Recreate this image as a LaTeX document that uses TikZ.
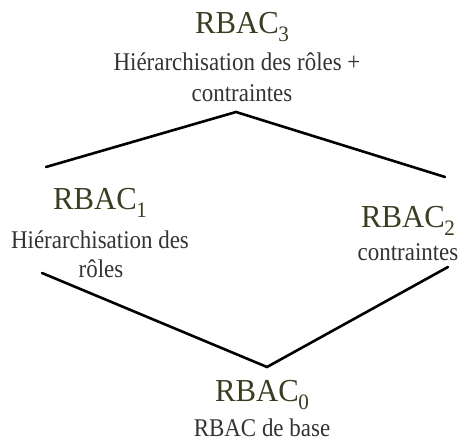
\documentclass[tikz,border=0pt]{standalone}
\usepackage{fontspec}
\setmainfont{Liberation Serif}
\newfontfamily\titlefont[FakeStretch=0.96]{Liberation Serif}
\newfontfamily\notefont[FakeStretch=0.9]{Liberation Serif}
\definecolor{titlecol}{HTML}{3C3C22}
\definecolor{notecol}{HTML}{333333}
% level name with a lowered index
\newcommand\lvl[1]{RBAC\kern-0.5pt\raisebox{-8pt}{\fontsize{22}{22}\selectfont #1}}
\begin{document}
\begin{tikzpicture}[x=1pt,y=-1pt,
  level/.style={anchor=base,inner sep=0pt,text=titlecol,
    font=\titlefont\fontsize{32}{32}\selectfont},
  note/.style={anchor=base,inner sep=0pt,text=notecol,
    font=\notefont\fontsize{25.5}{25.5}\selectfont},
  edge/.style={line width=2.6pt,line cap=round,line join=miter}]
\useasboundingbox (0,0) rectangle (459,443);
% lattice outline
\coordinate (t)  at (236,112);
\coordinate (tl) at (46,167);
\coordinate (tr) at (445,177);
\coordinate (b)  at (267,367);
\coordinate (bl) at (42,273);
\coordinate (br) at (448,267);
\draw[edge] (tl) -- (t) -- (tr);
\draw[edge] (bl) -- (b) -- (br);
% RBAC3
\node[level] (r3) at (242,34) {\lvl{3}};
\node[note] (r3a) at (237,71) {Hiérarchisation des rôles +};
\node[note] (r3b) at (242,102) {contraintes};
% RBAC1
\node[level] (r1) at (100,210) {\lvl{1}};
\node[note] (r1a) at (100,249) {Hiérarchisation des};
\node[note] (r1b) at (101,278) {rôles};
% RBAC2
\node[level] (r2) at (408,228) {\lvl{2}};
\node[note] (r2a) at (408,261) {contraintes};
% RBAC0
\node[level] (r0) at (262,402) {\lvl{0}};
\node[note] (r0a) at (262,437) {RBAC de base};
\end{tikzpicture}
\end{document}
